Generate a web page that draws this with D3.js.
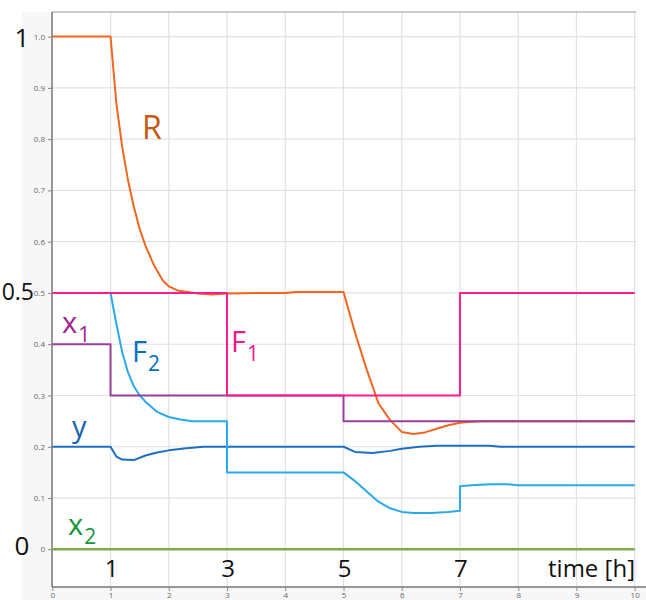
<!DOCTYPE html>
<html>
<head>
<meta charset="utf-8">
<script src="https://cdn.jsdelivr.net/npm/d3@7/dist/d3.min.js"></script>
<style>
body { margin: 0; background: #fff; }
svg { display: block; font-family: "Open Sans", sans-serif; }
</style>
</head>
<body>
<div id="chart"></div>
<script>
// time ticks [h] and value ticks
const xTicks = [0, 1, 2, 3, 4, 5, 6, 7, 8, 9, 10];
const yTicks = [0, 0.1, 0.2, 0.3, 0.4, 0.5, 0.6, 0.7, 0.8, 0.9, 1.0];

// step inputs (value holds until next time)
const seriesF1 = [[0, 0.5], [3, 0.3], [7, 0.5], [10, 0.5]];
const seriesX1 = [[0, 0.4], [1, 0.3], [5, 0.25], [10, 0.25]];
const seriesX2 = [[0, 0], [10, 0]];

// responses
const seriesR = [
	[0, 1.0], [1.0, 1.0], [1.1, 0.87], [1.2, 0.785], [1.3, 0.72], [1.4, 0.668],
	[1.5, 0.625], [1.6, 0.592], [1.75, 0.553], [1.9, 0.524], [2.0, 0.513],
	[2.15, 0.505], [2.5, 0.499], [2.75, 0.497], [3.0, 0.499], [3.5, 0.5],
	[4.0, 0.5], [4.2, 0.502], [5.0, 0.502], [5.2, 0.422], [5.4, 0.35],
	[5.6, 0.285], [5.8, 0.252], [6.0, 0.229], [6.2, 0.225], [6.4, 0.228],
	[6.6, 0.235], [6.8, 0.242], [7.0, 0.247], [7.2, 0.249], [7.4, 0.25],
	[8.0, 0.25], [10, 0.25]
];
const seriesF2 = [
	[1.0, 0.5], [1.1, 0.44], [1.2, 0.385], [1.3, 0.345], [1.4, 0.318],
	[1.5, 0.3], [1.6, 0.288], [1.8, 0.268], [2.0, 0.258], [2.2, 0.253],
	[2.4, 0.25], [3.0, 0.25], [3.0, 0.15], [5.0, 0.15], [5.2, 0.133],
	[5.4, 0.113], [5.6, 0.093], [5.8, 0.08], [6.0, 0.073], [6.2, 0.071],
	[6.5, 0.071], [6.8, 0.073], [7.0, 0.075], [7.0, 0.123], [7.2, 0.125],
	[7.5, 0.127], [7.8, 0.127], [8.0, 0.125], [10, 0.125]
];
const seriesY = [
	[0, 0.2], [1.0, 0.2], [1.1, 0.181], [1.2, 0.175], [1.4, 0.174],
	[1.6, 0.183], [1.8, 0.189], [2.0, 0.193], [2.3, 0.197], [2.6, 0.2],
	[5.0, 0.2], [5.2, 0.19], [5.5, 0.188], [5.8, 0.192], [6.0, 0.196],
	[6.3, 0.2], [6.6, 0.202], [7.0, 0.202], [7.5, 0.202], [7.7, 0.2], [10, 0.2]
];

const W = 646, H = 600;
const margin = { top: 12, right: 11, bottom: 13, left: 52 };

const svg = d3.select("#chart").append("svg")
	.attr("width", W)
	.attr("height", H);

const x = d3.scaleLinear().domain([0, 10]).range([52.3, 634.7]);
const y = d3.scaleLinear().domain([-0.0735, 1.048]).range([H - margin.bottom, margin.top]);

// faint frame round the axes
svg.append("rect").attr("x", 22).attr("y", margin.top).attr("width", margin.left - 22)
	.attr("height", H - margin.top).attr("fill", "#f7f7f7");
svg.append("rect").attr("x", 22).attr("y", H - margin.bottom).attr("width", W - 22)
	.attr("height", margin.bottom).attr("fill", "#f7f7f7");

// grid
const grid = svg.append("g").attr("stroke", "#e2e2e2").attr("stroke-width", 1.2);
grid.selectAll(".gy").data(yTicks).enter().append("line")
	.attr("x1", margin.left).attr("x2", W - margin.right + 1)
	.attr("y1", d => y(d)).attr("y2", d => y(d));
grid.selectAll(".gx").data(xTicks.slice(1)).enter().append("line")
	.attr("x1", d => x(d)).attr("x2", d => x(d))
	.attr("y1", margin.top).attr("y2", H - margin.bottom);

// top border
svg.append("line").attr("x1", margin.left).attr("x2", W - margin.right + 1)
	.attr("y1", margin.top).attr("y2", margin.top)
	.attr("stroke", "#9a9a9a").attr("stroke-width", 1.2);

// axes
const yAxis = svg.append("g")
	.attr("transform", "translate(" + margin.left + ",0)")
	.call(d3.axisLeft(y).tickValues(yTicks).tickSize(4).tickPadding(3)
		.tickFormat(d => d === 0 ? "0" : d3.format(".1f")(d)));
const xAxis = svg.append("g")
	.attr("transform", "translate(0," + (H - margin.bottom) + ")")
	.call(d3.axisBottom(x).tickValues(xTicks).tickSize(4).tickPadding(1));
[yAxis, xAxis].forEach(a => {
	a.select(".domain").attr("stroke", "#777").attr("stroke-width", 1.5);
	a.selectAll(".tick line").attr("stroke", "#888");
	a.selectAll("text").attr("fill", "#666").style("font-size", "8px")
		.style("font-family", "Open Sans, sans-serif");
});
xAxis.select(".domain").attr("d", "M" + margin.left + ",0H" + W);
yAxis.select(".domain").attr("d", "M0," + margin.top + "V" + (H - margin.bottom));

// lines
const line = d3.line().x(d => x(d[0])).y(d => y(d[1]));
const stepLine = d3.line().x(d => x(d[0])).y(d => y(d[1])).curve(d3.curveStepAfter);

const lines = [
	{ data: seriesX2, gen: line, color: "#7faa45", w: 2.5 },
	{ data: seriesY, gen: line, color: "#1e6fc0", w: 2 },
	{ data: seriesF2, gen: line, color: "#2ba9ea", w: 2 },
	{ data: seriesR, gen: line, color: "#f2661e", w: 2 },
	{ data: seriesX1, gen: stepLine, color: "#993f9c", w: 2 },
	{ data: seriesF1, gen: stepLine, color: "#fb1d8d", w: 2 }
];
svg.append("g").selectAll("path").data(lines).enter().append("path")
	.attr("d", d => d.gen(d.data))
	.attr("fill", "none")
	.attr("stroke", d => d.color)
	.attr("stroke-width", d => d.w)
	.attr("stroke-linejoin", "round");

// series names
function label(txt, sub, px, py, color, size) {
	const t = svg.append("text").attr("x", px).attr("y", py)
		.attr("fill", color).style("font-size", size + "px");
	t.append("tspan").text(txt);
	if (sub) {
		t.append("tspan").attr("dx", 1).attr("dy", size * 0.3)
			.style("font-size", (size * 0.72) + "px").text(sub);
	}
}
label("R", null, 142, 139, "#c55a11", 32);
label("x", "1", 62, 333, "#a2238f", 29);
label("F", "2", 132, 362, "#0070c0", 29);
label("F", "1", 231, 352, "#ec1a8a", 29);
label("y", null, 72, 437, "#1a62b2", 29);
label("x", "2", 68, 535, "#14963c", 29);

// big axis annotations
const big = svg.append("g").attr("fill", "#111").style("font-size", "26px");
big.append("text").attr("x", 22).attr("y", 47).attr("text-anchor", "middle").text("1");
big.append("text").attr("x", 34).attr("y", 300).attr("text-anchor", "end")
	.style("font-size", "23px").text("0.5");
big.append("text").attr("x", 22).attr("y", 555).attr("text-anchor", "middle").text("0");
const timeMarks = [1, 3, 5, 7];
big.selectAll(".tm").data(timeMarks).enter().append("text")
	.attr("x", d => x(d) + 1).attr("y", 577).attr("text-anchor", "middle")
	.style("font-size", "24px").text(d => d);
big.append("text").attr("x", 635).attr("y", 577).attr("text-anchor", "end")
	.style("font-size", "24px").text("time [h]");
</script>
</body>
</html>
